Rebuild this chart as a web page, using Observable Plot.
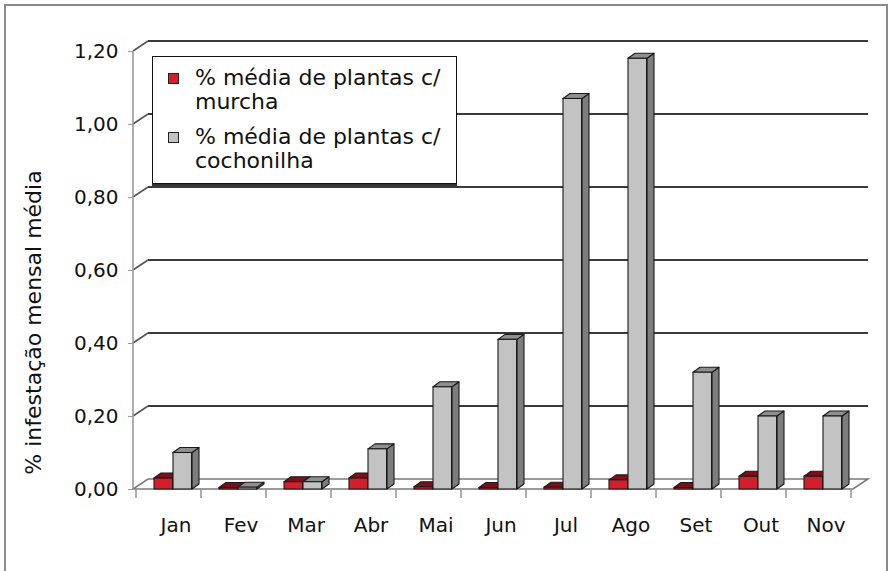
<!DOCTYPE html>
<html>
<head>
<meta charset="utf-8">
<script src="https://cdn.jsdelivr.net/npm/d3@7"></script>
<script src="https://cdn.jsdelivr.net/npm/@observablehq/plot@0.6"></script>
<style>
  html, body { margin: 0; padding: 0; background: #fff; }
  #wrap { position: relative; width: 892px; height: 571px; overflow: hidden; font-family: "DejaVu Sans", sans-serif; }
  #legend {
    position: absolute; left: 152px; top: 56px; width: 303px; height: 126px;
    background: #fff; border: 1.6px solid #111; box-shadow: 0 2px 0 #333;
    color: #111; font-size: 22px; line-height: 24px;
  }
  .item { position: absolute; left: 42px; }
  .sw { position: absolute; left: -27px; top: 7px; width: 9px; height: 9px; border: 1.3px solid #222; }
</style>
</head>
<body>
<div id="wrap">
  <div id="chart"></div>
  <div id="legend"></div>
</div>
<script>
const months = ["Jan", "Fev", "Mar", "Abr", "Mai", "Jun", "Jul", "Ago", "Set", "Out", "Nov"];
const murcha = [0.03, 0.004, 0.02, 0.03, 0.006, 0.004, 0.005, 0.025, 0.004, 0.035, 0.035];
const cochonilha = [0.10, 0.005, 0.02, 0.11, 0.28, 0.41, 1.07, 1.18, 0.32, 0.20, 0.20];
const yTicks = [0, 0.2, 0.4, 0.6, 0.8, 1.0, 1.2];
const seriesNames = ["% média de plantas c/ murcha", "% média de plantas c/ cochonilha"];
const yLabel = "% infestação mensal média";

const W = 892, H = 571;
const mL = 133, mR = 39, mT = 51, mB = 82;
const bandW = (W - mL - mR) / months.length;
const DX = 15, DY = 10;      // wall depth offset
const bdx = 7, bdy = 5;      // bar depth offset

const redData = months.map((m, i) => ({month: m, value: murcha[i]}));
const grayData = months.map((m, i) => ({month: m, value: cochonilha[i]}));

const styles = {
  red:  {front: "#d21f2b", top: "#7e0f1a", side: "#8e111c"},
  gray: {front: "#c3c3c3", top: "#8f8f8f", side: "#7d7d7d"}
};
const slots = {red: [18, 37], gray: [37, 56]};

function bw(x) { return typeof x.bandwidth === "function" ? x.bandwidth() : bandW; }

// background walls, gridlines, floor
function deco(index, scales, values, dims) {
  const {x, y} = scales;
  const g = d3.create("svg:g");
  const L = dims.marginLeft, R = dims.width - dims.marginRight, B = y(0);
  g.append("rect").attr("x", 5).attr("y", 5).attr("width", dims.width - 10).attr("height", dims.height)
    .attr("fill", "none").attr("stroke", "#8a8a8a").attr("stroke-width", 2);
  for (const v of yTicks) {
    if (v === 0) continue;
    const yy = y(v);
    g.append("line").attr("x1", L + DX).attr("x2", R + DX).attr("y1", yy - DY).attr("y2", yy - DY)
      .attr("stroke", "#3a3a3a").attr("stroke-width", 2.2);
    g.append("line").attr("x1", L).attr("x2", L + DX).attr("y1", yy).attr("y2", yy - DY)
      .attr("stroke", "#555").attr("stroke-width", 1.6);
  }
  // floor
  g.append("path").attr("d", `M${L},${B}L${R},${B}L${R + DX},${B - DY}L${L + DX},${B - DY}Z`)
    .attr("fill", "#fff").attr("stroke", "#7a7a7a").attr("stroke-width", 1.6);
  // front axis
  g.append("line").attr("x1", L).attr("x2", L).attr("y1", y(yTicks[yTicks.length - 1])).attr("y2", B)
    .attr("stroke", "#9a9a9a").attr("stroke-width", 1.6);
  // x ticks at band boundaries
  const bounds = months.map(m => x(m)).concat([x(months[months.length - 1]) + bw(x)]);
  for (const bx of bounds) {
    g.append("line").attr("x1", bx).attr("x2", bx).attr("y1", B).attr("y2", B + 9)
      .attr("stroke", "#9a9a9a").attr("stroke-width", 1.6);
  }
  return g.node();
}

// 3D side and top faces of the bars
function faces(data, key) {
  return (index, scales) => {
    const {x, y} = scales;
    const g = d3.create("svg:g").attr("stroke", "#1a1a1a").attr("stroke-width", 1.1).attr("stroke-linejoin", "round");
    const [a0, a1] = slots[key];
    const s = styles[key];
    for (const d of data) {
      const x0 = x(d.month) + a0, x1 = x(d.month) + a1;
      const yt = y(d.value), yb = y(0);
      g.append("path").attr("fill", s.side)
        .attr("d", `M${x1},${yb}L${x1 + bdx},${yb - bdy}L${x1 + bdx},${yt - bdy}L${x1},${yt}Z`);
      g.append("path").attr("fill", s.top)
        .attr("d", `M${x0},${yt}L${x0 + bdx},${yt - bdy}L${x1 + bdx},${yt - bdy}L${x1},${yt}Z`);
    }
    return g.node();
  };
}

const fmt = v => v.toFixed(2).replace(".", ",");

const chart = Plot.plot({
  width: W, height: H,
  marginLeft: mL, marginRight: mR, marginTop: mT, marginBottom: mB,
  style: {fontFamily: "DejaVu Sans, sans-serif", background: "transparent", color: "#111", overflow: "visible"},
  x: {domain: months, padding: 0, axis: null},
  y: {domain: [0, 1.2], axis: null},
  marks: [
    deco,
    faces(redData, "red"),
    Plot.barY(redData, {x: "month", y: "value", fill: styles.red.front, stroke: "#1a1a1a", strokeWidth: 1.1,
      insetLeft: slots.red[0], insetRight: bandW - slots.red[1]}),
    faces(grayData, "gray"),
    Plot.barY(grayData, {x: "month", y: "value", fill: styles.gray.front, stroke: "#1a1a1a", strokeWidth: 1.1,
      insetLeft: slots.gray[0], insetRight: bandW - slots.gray[1]}),
    Plot.axisY({ticks: yTicks, tickFormat: fmt, tickSize: 5, tickPadding: 10, fontSize: 20, stroke: "#9a9a9a", label: null}),
    Plot.axisX({tickSize: 0, tickPadding: 28, dx: 7, fontSize: 20, label: null}),
    Plot.text([yLabel], {text: d => d, frameAnchor: "left", textAnchor: "middle", dx: -100, dy: 52, rotate: -90, fontSize: 22, fill: "#111"})
  ]
});
document.getElementById("chart").appendChild(chart);

// legend
const legend = document.getElementById("legend");
const words = seriesNames.map(n => {
  const i = n.lastIndexOf(" ");
  return [n.slice(0, i), n.slice(i + 1)];
});
const swatchColors = [styles.red.front, styles.gray.front];
words.forEach((lines, k) => {
  const item = document.createElement("div");
  item.className = "item";
  item.style.top = (k === 0 ? 9 : 68) + "px";
  const sw = document.createElement("div");
  sw.className = "sw";
  sw.style.background = swatchColors[k];
  item.appendChild(sw);
  lines.forEach(t => {
    const l = document.createElement("div");
    l.textContent = t;
    item.appendChild(l);
  });
  legend.appendChild(item);
});
</script>
</body>
</html>
